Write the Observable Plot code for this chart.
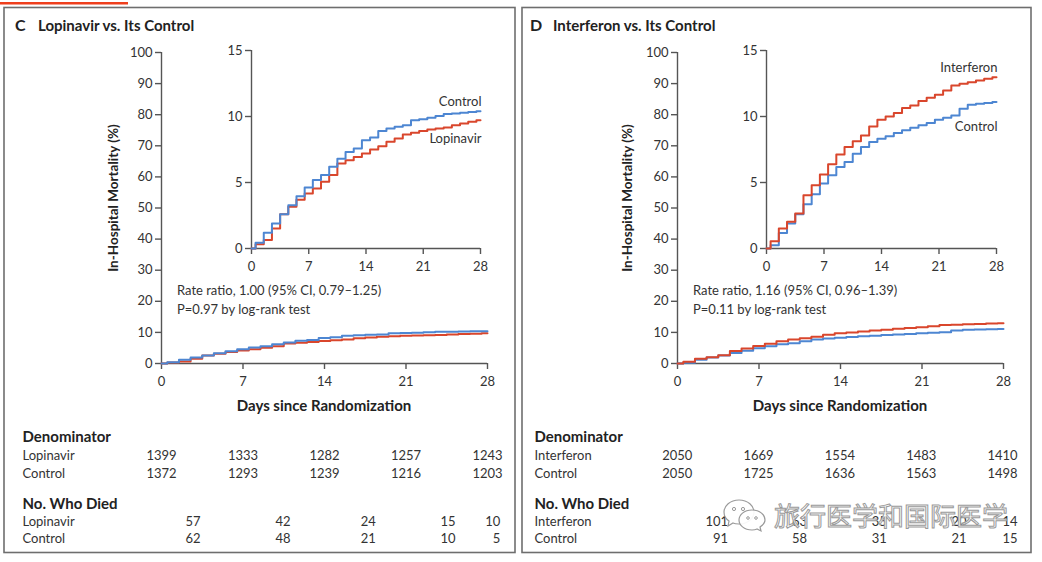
<!DOCTYPE html>
<html>
<head>
<meta charset="utf-8">
<script src="https://cdn.jsdelivr.net/npm/d3@7"></script>
<script src="https://cdn.jsdelivr.net/npm/@observablehq/plot@0.6"></script>
<style>
  html, body { margin: 0; padding: 0; background: #fff; }
  #root { position: relative; width: 1042px; height: 562px; overflow: hidden; font-family: Lato, "Open Sans", sans-serif; color: #222; }
  #root svg.plot { background: transparent; overflow: visible; max-width: none; }
  .wm { position: absolute; left: 722px; top: 496px; display: flex; align-items: center; gap: 6px; pointer-events: none; }
  .wm span { font-family: "Noto Sans CJK SC", sans-serif; font-size: 26px; color: rgba(255,255,255,0.93); -webkit-text-stroke: 1px #9a9a9a; letter-spacing: 0px; }
</style>
</head>
<body>
<div id="root"></div>
<script>
// ---------------- DATA ----------------
const stepDays = [0, 0.5, 1.5, 2.5, 3.5, 4.5, 5.5, 6.5, 7.5, 8.5, 9.5, 10.5, 11.5, 12.5, 13.5, 14.5,
  15.5, 16.5, 17.5, 18.5, 19.5, 20.5, 21.5, 22.5, 23.5, 24.5, 25.5, 26.5, 27.5, 28];

const lopinavir = [0, 0.33, 0.65, 1.52, 2.6, 3.16, 3.7, 4.17, 4.55, 5.05, 5.56, 6.44, 6.69, 6.94, 7.2, 7.5,
  7.75, 8.08, 8.33, 8.64, 8.76, 8.91, 9.02, 9.09, 9.17, 9.34, 9.47, 9.6, 9.72, 9.72];
const lopinavirControl = [0, 0.43, 1.19, 1.89, 2.6, 3.28, 3.96, 4.62, 5.18, 5.56, 6.19, 6.79, 7.32, 7.58, 8.21, 8.41,
  8.91, 9.09, 9.22, 9.34, 9.72, 9.8, 9.9, 10.03, 10.18, 10.23, 10.28, 10.35, 10.4, 10.4];
const interferon = [0, 0.55, 1.51, 2.02, 2.65, 4.03, 4.79, 5.6, 6.38, 7.13, 7.69, 8.12, 8.57, 9.25, 9.76, 10.0,
  10.26, 10.64, 10.84, 11.17, 11.42, 11.65, 11.97, 12.35, 12.48, 12.6, 12.73, 12.86, 12.98, 12.98];
const interferonControl = [0, 0.25, 1.18, 1.89, 2.6, 3.35, 4.11, 4.92, 5.55, 6.18, 6.55, 7.18, 7.69, 8.07, 8.32, 8.5,
  8.75, 8.95, 9.15, 9.33, 9.5, 9.76, 9.91, 10.08, 10.59, 10.89, 10.97, 11.02, 11.09, 11.09];

const dayTicks = [0, 7, 14, 21, 28];
const mainYTicks = [0, 10, 20, 30, 40, 50, 60, 70, 80, 90, 100];
const insetYTicks = [0, 5, 10, 15];

const denomLopinavir = [1399, 1333, 1282, 1257, 1243];
const denomLopinavirControl = [1372, 1293, 1239, 1216, 1203];
const diedLopinavir = [57, 42, 24, 15, 10];
const diedLopinavirControl = [62, 48, 21, 10, 5];

const denomInterferon = [2050, 1669, 1554, 1483, 1410];
const denomInterferonControl = [2050, 1725, 1636, 1563, 1498];
const diedInterferon = [101, 63, 35, 20, 14];
const diedInterferonControl = [91, 58, 31, 21, 15];

// ---------------- STYLE / LAYOUT ----------------
const RED = "#d9462c", BLUE = "#4d86d2", AXIS = "#555", INK = "#222", TICK = "#333";
const FONT = "Lato, 'Open Sans', sans-serif";
const root = document.getElementById("root");

function place(node, left, top) {
  const div = document.createElement("div");
  div.style.cssText = `position:absolute;left:${left}px;top:${top}px;`;
  div.appendChild(node);
  root.appendChild(div);
}

function toRows(vals) { return stepDays.map((d, i) => ({day: d, value: vals[i]})); }

function kmPlot(box, yMax, yTicks, series, labels) {
  const ml = 45, mr = 15, mt = 10, mb = 32;
  const marks = [
    Plot.axisX({ticks: dayTicks, tickSize: 6, tickPadding: 7, stroke: AXIS, strokeWidth: 1.4, fill: TICK, fontSize: 13, label: null}),
    Plot.axisY({ticks: yTicks, tickSize: 6, tickPadding: 3, stroke: AXIS, strokeWidth: 1.4, fill: TICK, fontSize: 13, label: null}),
    Plot.ruleY([0], {stroke: AXIS, strokeWidth: 1.4}),
    Plot.ruleX([0], {stroke: AXIS, strokeWidth: 1.4})
  ];
  for (const s of series) {
    marks.push(Plot.line(toRows(s.values), {x: "day", y: "value", curve: "step-after", stroke: s.color, strokeWidth: 2}));
  }
  for (const l of labels) {
    const rows = toRows(l.values);
    marks.push(Plot.text([rows[rows.length - 1]], {x: "day", y: "value", text: () => l.text, textAnchor: "end", dx: 1, dy: l.dy, fill: "#333", fontSize: 13}));
  }
  const plot = Plot.plot({
    width: ml + (box.x1 - box.x0) + mr,
    height: mt + (box.yBottom - box.yTop) + mb,
    marginLeft: ml, marginRight: mr, marginTop: mt, marginBottom: mb,
    x: {domain: [0, 28]},
    y: {domain: [0, yMax]},
    style: {fontFamily: FONT, fontSize: "13px", background: "transparent", overflow: "visible"},
    marks
  });
  place(plot, box.x0 - ml, box.yTop - mt);
}

function tablePlot(t) {
  const ml = t.axisX0 - t.labelX, mr = 40, mt = 10, mb = 10;
  const cells = t.rowNames.flatMap((r, ri) => t.values[ri].map((v, ci) => ({row: r, col: t.cols[ci], v: String(v)})));
  const plot = Plot.plot({
    width: ml + (t.axisX1 - t.axisX0) + mr,
    height: mt + (t.yc[1] - t.yc[0]) + mb,
    marginLeft: ml, marginRight: mr, marginTop: mt, marginBottom: mb,
    x: {domain: [0, 28], axis: null},
    y: {type: "point", domain: [t.header, ...t.rowNames], padding: 0, axis: null},
    style: {fontFamily: FONT, fontSize: "13px", background: "transparent", overflow: "visible"},
    marks: [
      Plot.text([t.header], {y: d => d, text: d => d, frameAnchor: "left", textAnchor: "start", dx: -ml, fontWeight: "bold", fontSize: 15, fill: INK}),
      Plot.text(t.rowNames, {y: d => d, text: d => d, frameAnchor: "left", textAnchor: "start", dx: -ml, fontSize: 13, fill: "#333"}),
      Plot.text(cells, {x: "col", y: "row", text: d => d.v, textAnchor: t.anchor, fontSize: 13, fill: "#333"})
    ]
  });
  place(plot, t.labelX, t.yc[0] - mt);
}

// ---------------- STATIC FRAME / TEXT ----------------
const panels = [
  {letter: "C", title: "Lopinavir vs. Its Control", bx: 4, bw: 511, letterX: 15, titleX: 38,
   main: {x0: 161, x1: 487, yTop: 52, yBottom: 363}, inset: {x0: 251, x1: 480, yTop: 50, yBottom: 248},
   ratio: "Rate ratio, 1.00 (95% CI, 0.79–1.25)", p: "P=0.97 by log-rank test", ratioX: 177, ylabX: 118,
   labelX: 22, trt: "Lopinavir",
   trtVals: lopinavir, ctlVals: lopinavirControl,
   denom: [denomLopinavir, denomLopinavirControl], died: [diedLopinavir, diedLopinavirControl],
   diedCols: [3.35, 11.08, 18.4, 25.25, 29.1],
   trtDy: 19, ctlDy: -9},
  {letter: "D", title: "Interferon vs. Its Control", bx: 522, bw: 509, letterX: 530, titleX: 553,
   main: {x0: 677, x1: 1003, yTop: 52, yBottom: 363}, inset: {x0: 766, x1: 996, yTop: 50, yBottom: 248},
   ratio: "Rate ratio, 1.16 (95% CI, 0.96–1.39)", p: "P=0.11 by log-rank test", ratioX: 693, ylabX: 632,
   labelX: 534, trt: "Interferon",
   trtVals: interferon, ctlVals: interferonControl,
   denom: [denomInterferon, denomInterferonControl], died: [diedInterferon, diedInterferonControl],
   diedCols: [4.38, 11.17, 18.04, 24.9, 29.29],
   trtDy: -9, ctlDy: 25}
];

const NS = "http://www.w3.org/2000/svg";
const bg = document.createElementNS(NS, "svg");
bg.setAttribute("width", 1042); bg.setAttribute("height", 562);
bg.style.cssText = "position:absolute;left:0;top:0;";
let bgHtml = `<rect x="0" y="2" width="128" height="2.5" fill="#ef3f1d"/>`;
for (const p of panels) {
  const cx = (p.main.x0 + p.main.x1) / 2;
  bgHtml += `<rect x="${p.bx}" y="7.5" width="${p.bw}" height="545" fill="none" stroke="#6e6e6e" stroke-width="1.6"/>`;
  bgHtml += `<text x="${p.letterX}" y="31" font-family="${FONT}" font-weight="bold" font-size="16" fill="${INK}">${p.letter}</text>`;
  bgHtml += `<text x="${p.titleX}" y="31" font-family="${FONT}" font-weight="bold" font-size="15" fill="${INK}">${p.title}</text>`;
  bgHtml += `<text transform="translate(${p.ylabX},198) rotate(-90)" text-anchor="middle" font-family="${FONT}" font-weight="bold" font-size="13.5" fill="${INK}">In-Hospital Mortality (%)</text>`;
  bgHtml += `<text x="${cx}" y="411" text-anchor="middle" font-family="${FONT}" font-weight="bold" font-size="15" fill="${INK}">Days since Randomization</text>`;
  bgHtml += `<text x="${p.ratioX}" y="295" font-family="${FONT}" font-size="13" fill="#333">${p.ratio}</text>`;
  bgHtml += `<text x="${p.ratioX}" y="314" font-family="${FONT}" font-size="13" fill="#333">${p.p}</text>`;
}
bg.innerHTML = bgHtml;
root.appendChild(bg);

// ---------------- CHARTS ----------------
for (const p of panels) {
  const series = p.letter === "C"
    ? [{values: p.trtVals, color: RED}, {values: p.ctlVals, color: BLUE}]
    : [{values: p.ctlVals, color: BLUE}, {values: p.trtVals, color: RED}];
  kmPlot(p.main, 100, mainYTicks, series, []);
  kmPlot(p.inset, 15, insetYTicks, series, [
    {values: p.ctlVals, text: "Control", dy: p.ctlDy},
    {values: p.trtVals, text: p.trt, dy: p.trtDy}
  ]);
  tablePlot({labelX: p.labelX, axisX0: p.main.x0, axisX1: p.main.x1, yc: [437, 473], header: "Denominator",
    rowNames: [p.trt, "Control"], values: p.denom, cols: dayTicks, anchor: "middle"});
  tablePlot({labelX: p.labelX, axisX0: p.main.x0, axisX1: p.main.x1, yc: [502.5, 538], header: "No. Who Died",
    rowNames: [p.trt, "Control"], values: p.died, cols: p.diedCols, anchor: "end"});
}

// ---------------- WATERMARK ----------------
const wm = document.createElement("div");
wm.className = "wm";
wm.innerHTML = `<svg width="46" height="36" viewBox="0 0 46 36">
  <path d="M17 3 C8 3 2 9 2 15 C2 19 4 22 7 24 L6 29 L11 26 C13 27 15 27 17 27 C26 27 32 21 32 15 C32 9 26 3 17 3 Z" fill="rgba(255,255,255,0.9)" stroke="#9a9a9a" stroke-width="1.2"/>
  <path d="M30 13 C22 13 17 18 17 23 C17 28 22 33 30 33 C32 33 33 33 35 32 L39 34 L38 30 C41 28 43 26 43 23 C43 18 38 13 30 13 Z" fill="rgba(255,255,255,0.93)" stroke="#9a9a9a" stroke-width="1.2"/>
  <circle cx="12" cy="12" r="1.6" fill="none" stroke="#9a9a9a"/><circle cx="21" cy="12" r="1.6" fill="none" stroke="#9a9a9a"/>
  <circle cx="26" cy="21" r="1.3" fill="none" stroke="#9a9a9a"/><circle cx="34" cy="21" r="1.3" fill="none" stroke="#9a9a9a"/>
</svg><span>旅行医学和国际医学</span>`;
root.appendChild(wm);
</script>
</body>
</html>
